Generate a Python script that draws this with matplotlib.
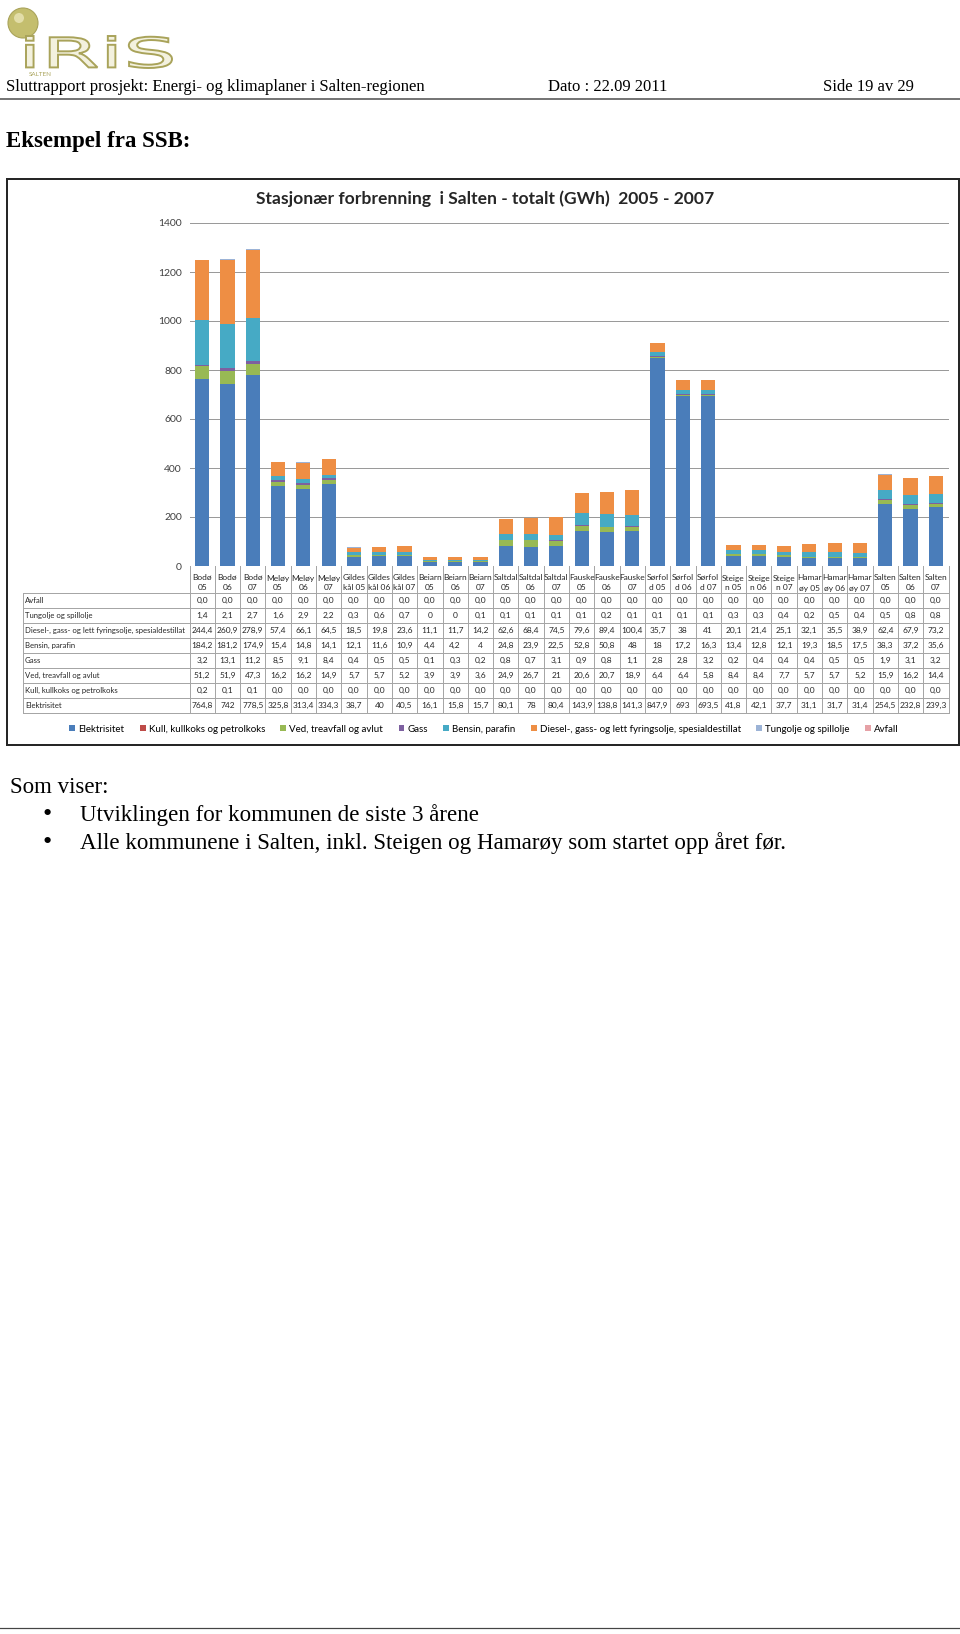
import matplotlib
matplotlib.use("Agg")
import numpy as np
import matplotlib.pyplot as plt
from matplotlib.patches import Rectangle, Circle, PathPatch
from matplotlib.textpath import TextPath
from matplotlib.font_manager import FontProperties
from matplotlib.transforms import Affine2D

W, H = 960, 1634
CHART_FONT = ["Lato", "DejaVu Sans"]
PAGE_FONT = ["Liberation Serif", "DejaVu Serif"]

# --- data, as printed in the table under the chart (GWh) ---
categories = [
    "Bodø\n05", "Bodø\n06", "Bodø\n07", "Meløy\n05", "Meløy\n06", "Meløy\n07",
    "Gildes\nkål 05", "Gildes\nkål 06", "Gildes\nkål 07", "Beiarn\n05", "Beiarn\n06", "Beiarn\n07",
    "Saltdal\n05", "Saltdal\n06", "Saltdal\n07", "Fauske\n05", "Fauske\n06", "Fauske\n07",
    "Sørfol\nd 05", "Sørfol\nd 06", "Sørfol\nd 07", "Steige\nn 05", "Steige\nn 06", "Steige\nn 07",
    "Hamar\nøy 05", "Hamar\nøy 06", "Hamar\nøy 07", "Salten\n05", "Salten\n06", "Salten\n07",
]

avfall = ["0,0", "0,0", "0,0", "0,0", "0,0", "0,0", "0,0", "0,0", "0,0", "0,0",
          "0,0", "0,0", "0,0", "0,0", "0,0", "0,0", "0,0", "0,0", "0,0", "0,0",
          "0,0", "0,0", "0,0", "0,0", "0,0", "0,0", "0,0", "0,0", "0,0", "0,0"]
tungolje = ["1,4", "2,1", "2,7", "1,6", "2,9", "2,2", "0,3", "0,6", "0,7", "0",
            "0", "0,1", "0,1", "0,1", "0,1", "0,1", "0,2", "0,1", "0,1", "0,1",
            "0,1", "0,3", "0,3", "0,4", "0,2", "0,5", "0,4", "0,5", "0,8", "0,8"]
diesel = ["244,4", "260,9", "278,9", "57,4", "66,1", "64,5", "18,5", "19,8", "23,6", "11,1",
          "11,7", "14,2", "62,6", "68,4", "74,5", "79,6", "89,4", "100,4", "35,7", "38",
          "41", "20,1", "21,4", "25,1", "32,1", "35,5", "38,9", "62,4", "67,9", "73,2"]
bensin = ["184,2", "181,2", "174,9", "15,4", "14,8", "14,1", "12,1", "11,6", "10,9", "4,4",
          "4,2", "4", "24,8", "23,9", "22,5", "52,8", "50,8", "48", "18", "17,2",
          "16,3", "13,4", "12,8", "12,1", "19,3", "18,5", "17,5", "38,3", "37,2", "35,6"]
gass = ["3,2", "13,1", "11,2", "8,5", "9,1", "8,4", "0,4", "0,5", "0,5", "0,1",
        "0,3", "0,2", "0,8", "0,7", "3,1", "0,9", "0,8", "1,1", "2,8", "2,8",
        "3,2", "0,2", "0,4", "0,4", "0,4", "0,5", "0,5", "1,9", "3,1", "3,2"]
ved = ["51,2", "51,9", "47,3", "16,2", "16,2", "14,9", "5,7", "5,7", "5,2", "3,9",
       "3,9", "3,6", "24,9", "26,7", "21", "20,6", "20,7", "18,9", "6,4", "6,4",
       "5,8", "8,4", "8,4", "7,7", "5,7", "5,7", "5,2", "15,9", "16,2", "14,4"]
kull = ["0,2", "0,1", "0,1", "0,0", "0,0", "0,0", "0,0", "0,0", "0,0", "0,0",
        "0,0", "0,0", "0,0", "0,0", "0,0", "0,0", "0,0", "0,0", "0,0", "0,0",
        "0,0", "0,0", "0,0", "0,0", "0,0", "0,0", "0,0", "0,0", "0,0", "0,0"]
elektrisitet = ["764,8", "742", "778,5", "325,8", "313,4", "334,3", "38,7", "40", "40,5", "16,1",
                "15,8", "15,7", "80,1", "78", "80,4", "143,9", "138,8", "141,3", "847,9", "693",
                "693,5", "41,8", "42,1", "37,7", "31,1", "31,7", "31,4", "254,5", "232,8", "239,3"]

# stacking order, bottom to top
stack = [
    ("Elektrisitet", elektrisitet, "#4A7DBA"),
    ("Kull, kullkoks og petrolkoks", kull, "#BE4B48"),
    ("Ved, treavfall og avlut", ved, "#98B954"),
    ("Gass", gass, "#7D60A0"),
    ("Bensin, parafin", bensin, "#46AAC5"),
    ("Diesel-, gass- og lett fyringsolje, spesialdestillat", diesel, "#EE8E44"),
    ("Tungolje og spillolje", tungolje, "#9CB3D6"),
    ("Avfall", avfall, "#E6A1A6"),
]


def to_num(values):
    return np.array([float(v.replace(",", ".")) for v in values])


def px(n):
    # pixels -> points at dpi 100
    return n * 0.72


fig = plt.figure(figsize=(W / 100, H / 100), dpi=100)
fig.patch.set_facecolor("white")

# page layer in pixel coordinates, y pointing down
bg = fig.add_axes([0, 0, 1, 1], zorder=0)
bg.set_xlim(0, W)
bg.set_ylim(H, 0)
bg.axis("off")

# logo
bg.add_patch(Circle((23, 23), 15, facecolor="#C4BE6E", edgecolor="#A9A35A", lw=0.8))
bg.add_patch(Circle((19, 18), 5, facecolor="#E2DDA8", edgecolor="none"))
tp = TextPath((0, 0), "iRiS", size=10, prop=FontProperties(family="DejaVu Sans"))
bb = tp.get_extents()
x0, y0, x1, y1 = 26, 36, 172, 68
tr = Affine2D().translate(-bb.x0, -bb.y0).scale((x1 - x0) / bb.width, -(y1 - y0) / bb.height).translate(x0, y1)
bg.add_patch(PathPatch(tr.transform_path(tp), facecolor="#F3F1DE", edgecolor="#A9A35A", lw=1.4))
bg.text(29, 74, "SALTEN", fontsize=4.5, color="#A9A35A", family=CHART_FONT, va="center")

# page header
bg.text(6, 87, "Sluttrapport prosjekt: Energi- og klimaplaner i Salten-regionen",
        fontsize=12, family=PAGE_FONT, va="center")
bg.text(548, 87, "Dato : 22.09 2011", fontsize=12, family=PAGE_FONT, va="center")
bg.text(823, 87, "Side 19 av 29", fontsize=12, family=PAGE_FONT, va="center")
bg.plot([0, W], [99, 99], color="#555555", lw=px(1.6))

bg.text(6, 141, "Eksempel fra SSB:", fontsize=16.5, fontweight="bold", family=PAGE_FONT, va="center")

# chart frame
bg.add_patch(Rectangle((7, 179), 952, 566, facecolor="white", edgecolor="#262626", lw=px(2)))

# chart
left, right, top, base = 189.5, 948.5, 223, 566
ax = fig.add_axes([left / W, 1 - base / H, (right - left) / W, (base - top) / H], zorder=2)
ax.patch.set_alpha(0)
x = np.arange(len(categories))
bottom = np.zeros(len(categories))
handles = []
for name, vals, color in stack:
    v = to_num(vals)
    b = ax.bar(x, v, width=0.56, bottom=bottom, color=color, label=name, zorder=3)
    handles.append(b)
    bottom += v
ax.set_xlim(-0.5, len(categories) - 0.5)
ax.set_ylim(0, 1400)
ax.set_yticks(range(0, 1401, 200))
ax.set_xticks([])
ax.tick_params(axis="y", length=0, pad=px(7.5), labelsize=7.5, labelcolor="#404040")
for lab in ax.get_yticklabels():
    lab.set_family(CHART_FONT)
ax.grid(axis="y", color="#9A9A9A", lw=px(1), zorder=0)
for s in ax.spines.values():
    s.set_visible(False)

bg.text(485, 199, "Stasjonær forbrenning  i Salten - totalt (GWh)  2005 - 2007",
        fontsize=12.6, fontweight="bold", family=CHART_FONT, ha="center", va="center", color="#262626")

# data table under the chart
cw = (right - left) / len(categories)
row0, rh = 593, 15
table_rows = list(reversed(stack))
line_c = "#A6A6A6"
tbl_left = 23
for k in range(len(table_rows) + 1):
    y = row0 + k * rh
    bg.plot([tbl_left, right], [y, y], color=line_c, lw=px(1), zorder=1)
bg.plot([tbl_left, tbl_left], [row0, row0 + len(table_rows) * rh], color=line_c, lw=px(1), zorder=1)
for i in range(len(categories) + 1):
    xx = left + i * cw
    bg.plot([xx, xx], [base, row0 + len(table_rows) * rh], color=line_c, lw=px(1), zorder=1)
for i, cat in enumerate(categories):
    cx = left + (i + 0.5) * cw
    l1, l2 = cat.split("\n")
    bg.text(cx, 578, l1, fontsize=6, family=CHART_FONT, ha="center", va="center", color="#262626")
    bg.text(cx, 588, l2, fontsize=6, family=CHART_FONT, ha="center", va="center", color="#262626")
for k, (name, vals, color) in enumerate(table_rows):
    cy = row0 + (k + 0.5) * rh
    bg.text(tbl_left + 2, cy, name, fontsize=5.6, family=CHART_FONT, va="center", color="#262626")
    for i, v in enumerate(vals):
        bg.text(left + (i + 0.5) * cw, cy, v, fontsize=6, family=CHART_FONT,
                ha="center", va="center", color="#262626", zorder=3)

fig.legend(handles=handles, loc="center", bbox_to_anchor=(484 / W, 1 - 729 / H), ncol=8,
           frameon=False, handlelength=0.6, handleheight=0.6,
           handletextpad=0.3, columnspacing=1.6, prop={"family": CHART_FONT, "size": 7})

# text under the chart
bg.text(10, 787, "Som viser:", fontsize=16.5, family=PAGE_FONT, va="center")
bullets = ["Utviklingen for kommunen de siste 3 årene",
           "Alle kommunene i Salten, inkl. Steigen og Hamarøy som startet opp året før."]
for yb, t in zip([815, 843], bullets):
    bg.text(47, yb, "•", fontsize=19, family=PAGE_FONT, ha="center", va="center")
    bg.text(80, yb, t, fontsize=16.6, family=PAGE_FONT, va="center")

bg.plot([0, W], [1628, 1628], color="#444444", lw=px(1.2))

fig.savefig("out.png", dpi=100)
